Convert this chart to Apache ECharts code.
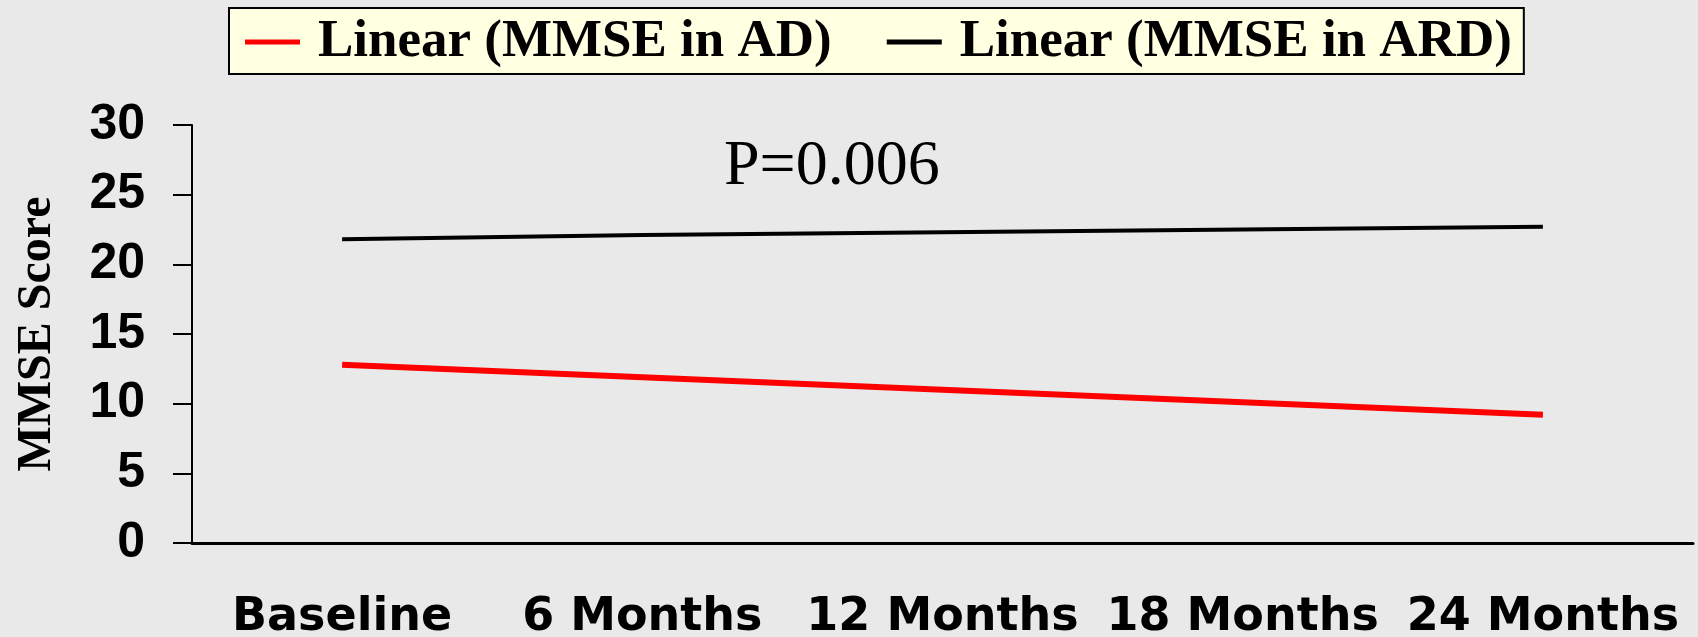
<!DOCTYPE html>
<html>
<head>
<meta charset="utf-8">
<script src="https://cdn.jsdelivr.net/npm/echarts@6/dist/echarts.min.js"></script>
<style>
  html, body { margin: 0; padding: 0; background: #e9e9e9; }
  #chart { width: 1698px; height: 637px; }
</style>
</head>
<body>
<div id="chart"></div>
<script>
var myChart = echarts.init(document.getElementById('chart'));

// data
var categories = ['Baseline', '6 Months', '12 Months', '18 Months', '24 Months'];
var adValues = [12.8, 11.9, 11.0, 10.1, 9.2];
var ardValues = [21.8, 22.1, 22.3, 22.5, 22.7];
var yTicks = [0, 30, 5]; // min, max, interval
var pLabel = 'P=0.006';

var sans = 'DejaVu Sans';
var serif = 'Liberation Serif';

var option = {
    backgroundColor: '#e9e9e9',
    animation: false,
    legend: {
        left: 229,
        top: 8,
        padding: [6, 12, 4, 16],
        itemGap: 55,
        itemWidth: 55,
        itemHeight: 5,
        backgroundColor: '#ffffe2',
        borderColor: '#000',
        borderWidth: 2,
        textStyle: {
            fontFamily: serif,
            fontWeight: 'bold',
            fontSize: 53,
            lineHeight: 56,
            color: '#000',
            padding: [0, 0, 0, 13]
        },
        data: [
            { name: 'Linear (MMSE in AD)', icon: 'rect' },
            { name: 'Linear (MMSE in ARD)', icon: 'rect' }
        ]
    },
    grid: {
        left: 192,
        right: 5,
        top: 125,
        bottom: 94,
        outerBoundsMode: 'none'
    },
    xAxis: {
        type: 'category',
        data: categories,
        boundaryGap: true,
        axisLine: { lineStyle: { color: '#000', width: 3 } },
        axisTick: { length: 17, lineStyle: { color: '#000', width: 2 } },
        axisLabel: {
            interval: 0,
            fontFamily: sans,
            fontWeight: 'bold',
            fontSize: 46,
            color: '#000',
            margin: 52
        },
        splitLine: { show: false }
    },
    yAxis: {
        type: 'value',
        min: yTicks[0],
        max: yTicks[1],
        interval: yTicks[2],
        name: 'MMSE Score',
        nameLocation: 'middle',
        nameGap: 130,
        nameTextStyle: {
            fontFamily: serif,
            fontWeight: 'bold',
            fontSize: 48,
            color: '#000'
        },
        axisLine: { show: true, lineStyle: { color: '#000', width: 2 } },
        axisTick: { show: true, length: 19, lineStyle: { color: '#000', width: 2 } },
        axisLabel: {
            fontFamily: 'Liberation Sans',
            fontWeight: 'bold',
            fontSize: 50,
            color: '#000',
            margin: 47
        },
        splitLine: { show: false }
    },
    graphic: [{
        type: 'text',
        left: 724,
        top: 135,
        style: {
            text: pLabel,
            font: '64px "Liberation Serif"',
            fill: '#000'
        }
    }],
    series: [
        {
            name: 'Linear (MMSE in AD)',
            type: 'line',
            data: adValues,
            symbol: 'none',
            lineStyle: { color: '#ff0000', width: 6 },
            itemStyle: { color: '#ff0000' }
        },
        {
            name: 'Linear (MMSE in ARD)',
            type: 'line',
            data: ardValues,
            symbol: 'none',
            lineStyle: { color: '#000', width: 4 },
            itemStyle: { color: '#000' }
        }
    ]
};

myChart.setOption(option);
</script>
</body>
</html>
